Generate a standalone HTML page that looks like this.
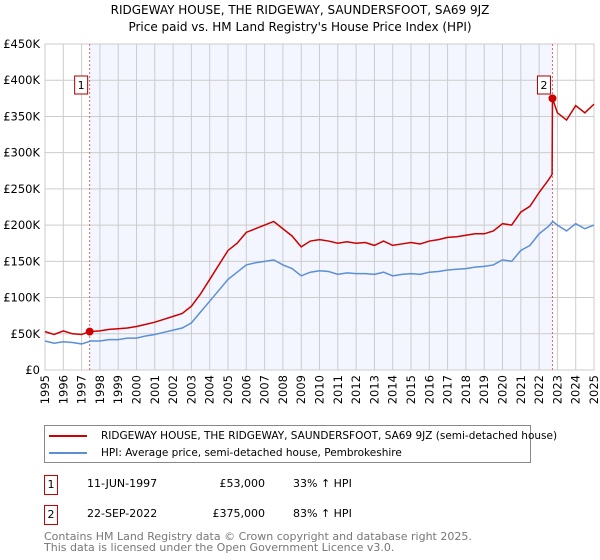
<!DOCTYPE html>
<html><head><meta charset="utf-8"><style>
body{margin:0;width:600px;height:560px;background:#fff;font-family:"DejaVu Sans","Liberation Sans",sans-serif;position:relative;overflow:hidden}
.t{position:absolute;left:0;width:600px;text-align:center;font-size:12px;color:#000}
.legend{position:absolute;left:44px;top:425px;width:485px;height:36px;border:1px solid #888;font-size:10.5px;white-space:nowrap}
.li{position:absolute;left:4px;height:14px;line-height:14px}
.li span{display:inline-block;width:38px;height:2px;vertical-align:middle;margin-right:14px}
.row{position:absolute;font-size:11px;white-space:nowrap}
.box{position:absolute;left:44px;width:12px;height:18px;border:1px solid #c00;text-align:center;font-size:11px;line-height:18px}
.foot{position:absolute;left:44px;font-size:11px;color:#777;line-height:11px;white-space:nowrap}
</style></head><body>
<div class="t" style="top:3px">RIDGEWAY HOUSE, THE RIDGEWAY, SAUNDERSFOOT, SA69 9JZ</div>
<div class="t" style="top:20px">Price paid vs. HM Land Registry's House Price Index (HPI)</div>
<svg id="c" width="600" height="420" style="position:absolute;left:0;top:0;font-family:'DejaVu Sans',sans-serif"></svg>
<div class="legend">
<div class="li" style="top:3px"><span style="background:#c00"></span>RIDGEWAY HOUSE, THE RIDGEWAY, SAUNDERSFOOT, SA69 9JZ (semi-detached house)</div>
<div class="li" style="top:20px"><span style="background:#5b8fd6"></span>HPI: Average price, semi-detached house, Pembrokeshire</div>
</div>
<div class="box" style="top:475px">1</div>
<div class="row" style="left:87px;top:477px">11-JUN-1997</div>
<div class="row" style="left:189px;top:477px;width:76px;text-align:right">£53,000</div>
<div class="row" style="left:293px;top:477px">33% ↑ HPI</div>
<div class="box" style="top:505px">2</div>
<div class="row" style="left:87px;top:507px">22-SEP-2022</div>
<div class="row" style="left:180px;top:507px;width:85px;text-align:right">£375,000</div>
<div class="row" style="left:293px;top:507px">83% ↑ HPI</div>
<div class="foot" style="top:531px">Contains HM Land Registry data © Crown copyright and database right 2025.<br>This data is licensed under the Open Government Licence v3.0.</div>
<script>
const hpiYears=[1995,1995.5,1996,1996.5,1997,1997.5,1998,1998.5,1999,1999.5,2000,2000.5,2001,2001.5,2002,2002.5,2003,2003.5,2004,2004.5,2005,2005.5,2006,2006.5,2007,2007.5,2008,2008.5,2009,2009.5,2010,2010.5,2011,2011.5,2012,2012.5,2013,2013.5,2014,2014.5,2015,2015.5,2016,2016.5,2017,2017.5,2018,2018.5,2019,2019.5,2020,2020.5,2021,2021.5,2022,2022.5,2022.75,2023,2023.5,2024,2024.5,2025];
const hpiValues=[40,37,39,38,36,40,40,42,42,44,44,47,49,52,55,58,65,80,95,110,125,135,145,148,150,152,145,140,130,135,137,136,132,134,133,133,132,135,130,132,133,132,135,136,138,139,140,142,143,145,152,150,165,172,188,198,205,200,192,202,195,200];
const priceYears=[1995,1995.5,1996,1996.5,1997,1997.44,1998,1998.5,1999,1999.5,2000,2000.5,2001,2001.5,2002,2002.5,2003,2003.5,2004,2004.5,2005,2005.5,2006,2006.5,2007,2007.5,2008,2008.5,2009,2009.5,2010,2010.5,2011,2011.5,2012,2012.5,2013,2013.5,2014,2014.5,2015,2015.5,2016,2016.5,2017,2017.5,2018,2018.5,2019,2019.5,2020,2020.5,2021,2021.5,2022,2022.5,2022.71,2022.73,2023,2023.5,2024,2024.5,2025];
const priceValues=[53,49,54,50,49,53,54,56,57,58,60,63,66,70,74,78,88,105,125,145,165,175,190,195,200,205,195,185,170,178,180,178,175,177,175,176,172,178,172,174,176,174,178,180,183,184,186,188,188,192,202,200,218,226,245,262,270,375,355,345,365,355,367];
const sales=[{n:'1',year:1997.44,value:53},{n:'2',year:2022.73,value:375}];
const yTicks=[0,50,100,150,200,250,300,350,400,450];
const yTickLabels=['£0','£50K','£100K','£150K','£200K','£250K','£300K','£350K','£400K','£450K'];
const xTicks=[1995,1996,1997,1998,1999,2000,2001,2002,2003,2004,2005,2006,2007,2008,2009,2010,2011,2012,2013,2014,2015,2016,2017,2018,2019,2020,2021,2022,2023,2024,2025];
const L=45,R=594,T=44,B=370;
const x=y=>L+(y-1995)/30*(R-L);
const yS=v=>B-v/450*(B-T);
const svg=document.getElementById('c');const NS='http://www.w3.org/2000/svg';
function mk(t,a,p){const e=document.createElementNS(NS,t);for(const k in a)e.setAttribute(k,a[k]);(p||svg).appendChild(e);return e;}
const shade=mk('rect',{x:x(sales[0].year),y:T,width:x(sales[1].year)-x(sales[0].year),height:B-T,fill:'#f3f6fe'});


yTicks.forEach((v,i)=>{const g=mk('line',{x1:L,x2:R,y1:yS(v),y2:yS(v),stroke:'#ccc'});


const t=mk('text',{x:L-5,y:yS(v)+4,'text-anchor':'end','font-size':11.5});t.textContent=yTickLabels[i];

});
xTicks.forEach(v=>{const g=mk('line',{x1:x(v),x2:x(v),y1:T,y2:B,stroke:'#ccc'});


const t=mk('text',{transform:`translate(${x(v)+4},${B+5}) rotate(-90)`,'text-anchor':'end','font-size':11.5});t.textContent=v;

});
mk('rect',{x:L,y:T,width:R-L,height:B-T,fill:'none',stroke:'#ccc'});
sales.forEach(s=>{const l=mk('line',{x1:x(s.year),x2:x(s.year),y1:T,y2:B,stroke:'#e06666','stroke-dasharray':'2,2'});

});
function line(xs,vs,c,name){const p=mk('polyline',{points:xs.map((a,i)=>x(a)+','+yS(vs[i])).join(' '),fill:'none',stroke:c,'stroke-width':1.5});

}
line(hpiYears,hpiValues,'#5b8fd6','hpi-line');
line(priceYears,priceValues,'#c00','price-line');
sales.forEach(s=>{const d=mk('circle',{cx:x(s.year),cy:yS(s.value),r:4,fill:'#c00'});


const bx=x(s.year)-14;const r=mk('rect',{x:bx-1,y:76,width:13,height:18,fill:'#fff',stroke:'#a00'});


const t=mk('text',{x:bx+5.5,y:89,'text-anchor':'middle','font-size':11});t.textContent=s.n;

});
</script>
</body></html>
